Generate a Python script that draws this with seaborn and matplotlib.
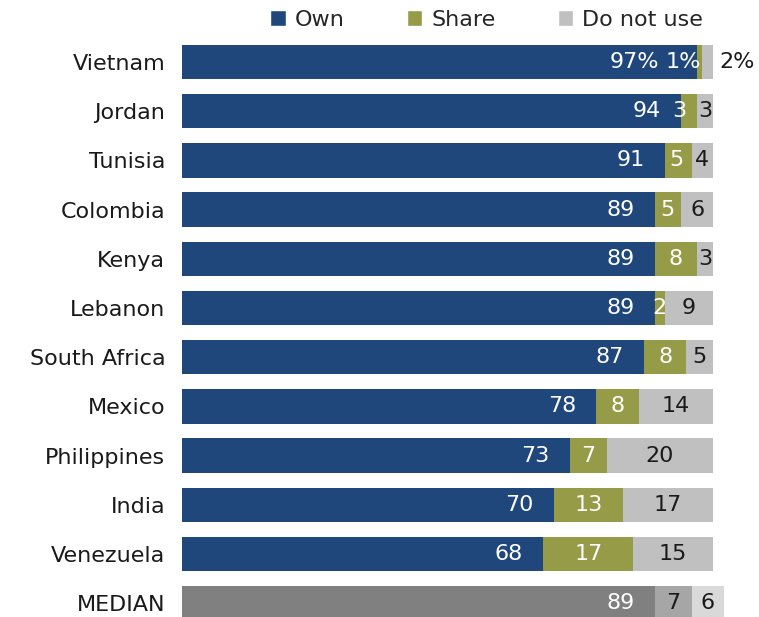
import matplotlib
matplotlib.use("Agg")
import matplotlib.pyplot as plt
from matplotlib.patches import Patch
import seaborn as sns
import pandas as pd

countries = ["Vietnam", "Jordan", "Tunisia", "Colombia", "Kenya", "Lebanon",
             "South Africa", "Mexico", "Philippines", "India", "Venezuela", "MEDIAN"]
own = [97, 94, 91, 89, 89, 89, 87, 78, 73, 70, 68, 89]
share = [1, 3, 5, 5, 8, 2, 8, 8, 7, 13, 17, 7]
not_use = [2, 3, 4, 6, 3, 9, 5, 14, 20, 17, 15, 6]

OWN_C, SHARE_C, NO_C = "#1f477b", "#959b47", "#c0c0c0"
MED_OWN, MED_SHARE, MED_NO = "#808080", "#a6a6a6", "#d9d9d9"

df = pd.DataFrame({"country": countries, "own": own, "share": share, "no": not_use})
df["own_share"] = df["own"] + df["share"]
df["total"] = df["own_share"] + df["no"]

sns.set_theme(style="white")
plt.rcParams["font.family"] = ["DejaVu Sans"]

fig = plt.figure(figsize=(7.59, 6.17), dpi=100)
ax = fig.add_axes([182 / 759, 0.0, 531 / 759, 579.6 / 617])


def layer(col, color, median_color):
    pal = {c: (median_color if c == "MEDIAN" else color) for c in countries}
    sns.barplot(data=df, x=col, y="country", hue="country", palette=pal,
                legend=False, orient="h", width=0.7, saturation=1, ax=ax,
                linewidth=0, errorbar=None)


layer("total", NO_C, MED_NO)
layer("own_share", SHARE_C, MED_SHARE)
layer("own", OWN_C, MED_OWN)
for p in ax.patches:
    p.set_clip_on(False)

ax.set_xlim(0, 100)
ax.set_ylim(11.28, -0.5)
ax.set_xlabel("")
ax.set_ylabel("")
ax.set_xticks([])
sns.despine(ax=ax, left=True, bottom=True)

fs = 16
ax.tick_params(axis="y", length=0, pad=12, labelsize=fs, labelcolor="#1a1a1a")

px = 100 / 531              # data units per pixel
digit = 0.636 * fs * 100 / 72 * px   # approximate digit width in data units
dark = "#1a1a1a"
for i, r in df.iterrows():
    first = i == 0
    suffix = "%" if first else ""
    # own
    off = 38 if first else 20
    ax.text(r["own"] - off * px, i, f"{r['own']}{suffix}", ha="right", va="center",
            color="white", fontsize=fs)
    # share, nudged left when it would crowd the next label
    sc = r["own"] + r["share"] / 2
    if first:
        sc = r["own"] - 14 * px
    else:
        no_left = r["own_share"] + r["no"] / 2 - len(str(r["no"])) * digit / 2
        sc = min(sc, no_left - 12 * px - len(str(r["share"])) * digit / 2)
    share_col = dark if r["country"] == "MEDIAN" else "white"
    ax.text(sc, i, f"{r['share']}{suffix}", ha="center", va="center",
            color=share_col, fontsize=fs)
    # do not use
    if first:
        ax.text(r["total"] + 6 * px, i, f"{r['no']}%", ha="left", va="center",
                color=dark, fontsize=fs)
    else:
        ax.text(r["own_share"] + r["no"] / 2, i, f"{r['no']}", ha="center",
                va="center", color=dark, fontsize=fs)

handles = [Patch(facecolor=OWN_C, label="Own"),
           Patch(facecolor=SHARE_C, label="Share"),
           Patch(facecolor=NO_C, label="Do not use")]
fig.legend(handles=handles, loc="upper center", bbox_to_anchor=(0.641, 1.017),
           ncol=3, frameon=False, fontsize=fs, handlelength=0.7, handleheight=0.7,
           handletextpad=0.4, columnspacing=2.8)

fig.savefig("out.png", dpi=100)
